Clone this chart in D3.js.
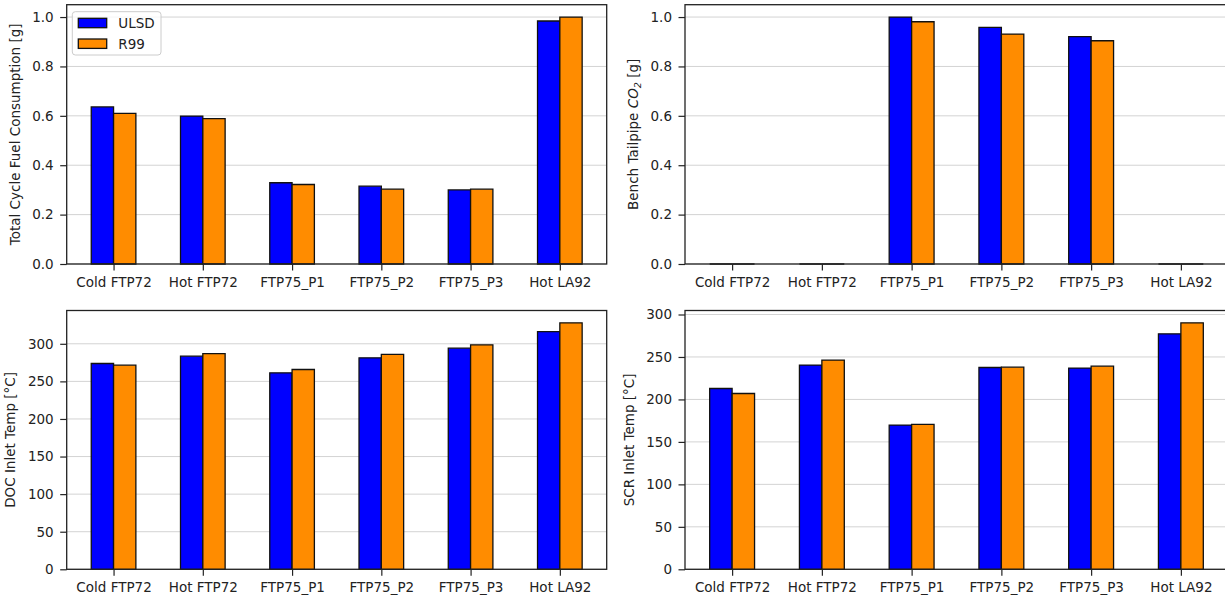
<!DOCTYPE html>
<html>
<head>
<meta charset="utf-8">
<script src="https://cdn.jsdelivr.net/npm/d3@7"></script>
<style>
  body { margin: 0; background: #fff; }
  svg text { font-family: "DejaVu Sans", sans-serif; }
  .tick text { fill: #222; font-size: 13.5px; }
  .tick line { stroke: #222; }
  .domain { display: none; }
</style>
</head>
<body>
<svg id="chart" width="1225" height="600"></svg>
<script>
// categories and series
var categories = ["Cold FTP72", "Hot FTP72", "FTP75_P1", "FTP75_P2", "FTP75_P3", "Hot LA92"];
var seriesNames = ["ULSD", "R99"];
var seriesColors = ["#0000ff", "#ff8c00"];

// values
var fuelULSD = [0.636, 0.599, 0.329, 0.315, 0.300, 0.984];
var fuelR99 = [0.610, 0.589, 0.322, 0.303, 0.303, 1.000];
var co2ULSD = [0, 0, 1.000, 0.958, 0.921, 0];
var co2R99 = [0, 0, 0.981, 0.931, 0.904, 0];
var docULSD = [273.8, 283.5, 261.4, 281.3, 294.2, 316.3];
var docR99 = [271.6, 287.0, 265.8, 285.8, 298.6, 327.9];
var scrULSD = [212.9, 240.4, 169.8, 237.6, 236.9, 277.3];
var scrR99 = [207.0, 246.3, 170.6, 238.0, 239.2, 290.2];

// tick labels
var fracTicks = [0, 0.2, 0.4, 0.6, 0.8, 1.0];
var tempTicks = [0, 50, 100, 150, 200, 250, 300];

var svg = d3.select("#chart");
var tickLen = 6.5, tickPad = 6.5, barW = 0.25;

function panel(opts) {
  var w = opts.right - opts.left,
    h = opts.bottom - opts.top;

  var g = svg.append("g")
    .attr("transform", "translate(" + opts.left + "," + opts.top + ")");

  var x = d3.scaleLinear().domain([-0.525, categories.length - 1 + 0.525]).range([0, w]);
  var ymax = d3.max(opts.values, function(s) { return d3.max(s); }) * 1.05;
  var y = d3.scaleLinear().domain([0, ymax]).range([h, 0]);

  // grid
  g.append("g").selectAll("line")
    .data(opts.ticks)
    .join("line")
    .attr("x1", 0).attr("x2", w)
    .attr("y1", function(d) { return y(d); })
    .attr("y2", function(d) { return y(d); })
    .attr("stroke", "#d3d3d3")
    .attr("stroke-width", 1);

  // bars (paths so zero-height bars still show their edge)
  opts.values.forEach(function(vals, si) {
    g.append("g").selectAll("path")
      .data(vals)
      .join("path")
      .attr("d", function(d, i) {
        var x0 = x(i - barW + si * barW), x1 = x(i + si * barW);
        return "M" + x0 + "," + y(0) + "H" + x1 + "V" + y(d) + "H" + x0 + "Z";
      })
      .attr("fill", seriesColors[si])
      .attr("stroke", "#111")
      .attr("stroke-width", 1.3);
  });

  // frame
  g.append("rect")
    .attr("width", w).attr("height", h)
    .attr("fill", "none")
    .attr("stroke", "#222")
    .attr("stroke-width", 1.3);

  // axes
  var xAxis = d3.axisBottom(x)
    .tickValues(d3.range(categories.length))
    .tickFormat(function(i) { return categories[i]; })
    .tickSize(tickLen).tickPadding(tickPad);
  g.append("g").attr("transform", "translate(0," + h + ")").call(xAxis)
    .selectAll(".tick line").attr("stroke-width", 1.2);

  var yAxis = d3.axisLeft(y)
    .tickValues(opts.ticks)
    .tickFormat(opts.format)
    .tickSize(tickLen).tickPadding(tickPad);
  var ya = g.append("g").call(yAxis);
  ya.selectAll(".tick line").attr("stroke-width", 1.2);

  var maxW = d3.max(ya.selectAll(".tick text").nodes(), function(n) {
    return n.getComputedTextLength();
  });

  var label = g.append("text")
    .attr("transform", "translate(" + (-(maxW + 25.5)) + "," + (h / 2) + ") rotate(-90)")
    .attr("text-anchor", "middle")
    .attr("font-size", "13.5px")
    .attr("fill", "#222");
  opts.label(label);

  return g;
}

var tl = panel({
  left: 66.7, top: 4.7, right: 606.7, bottom: 264,
  values: [fuelULSD, fuelR99], ticks: fracTicks, format: d3.format(".1f"),
  label: function(t) { t.text("Total Cycle Fuel Consumption [g]"); }
});

panel({
  left: 685, top: 4.7, right: 1228, bottom: 264,
  values: [co2ULSD, co2R99], ticks: fracTicks, format: d3.format(".1f"),
  label: function(t) {
    t.append("tspan").text("Bench Tailpipe ");
    t.append("tspan").attr("font-style", "italic").text("CO");
    t.append("tspan").attr("font-style", "italic").attr("font-size", "9.5px")
      .attr("dy", "3").text("2");
    t.append("tspan").attr("dy", "-3").text(" [g]");
  }
});

panel({
  left: 66.7, top: 310.5, right: 606.7, bottom: 569.3,
  values: [docULSD, docR99], ticks: tempTicks, format: d3.format("d"),
  label: function(t) { t.text("DOC Inlet Temp [°C]"); }
});

panel({
  left: 685, top: 310.5, right: 1228, bottom: 569.3,
  values: [scrULSD, scrR99], ticks: tempTicks, format: d3.format("d"),
  label: function(t) { t.text("SCR Inlet Temp [°C]"); }
});

// legend in the first panel
var legend = tl.append("g").attr("transform", "translate(5.6,7)");
legend.append("rect")
  .attr("width", 88.7).attr("height", 43.3).attr("rx", 3)
  .attr("fill", "#fff").attr("fill-opacity", 0.8)
  .attr("stroke", "#ccc");
var item = legend.selectAll("g.item")
  .data(seriesNames)
  .join("g")
  .attr("class", "item")
  .attr("transform", function(d, i) { return "translate(6," + (6.6 + i * 20.7) + ")"; });
item.append("rect")
  .attr("width", 28.4).attr("height", 9.4)
  .attr("fill", function(d, i) { return seriesColors[i]; })
  .attr("stroke", "#111").attr("stroke-width", 1.3);
item.append("text")
  .attr("x", 40).attr("y", 9.8)
  .attr("font-size", "13.5px").attr("fill", "#222")
  .text(function(d) { return d; });
</script>
</body>
</html>
